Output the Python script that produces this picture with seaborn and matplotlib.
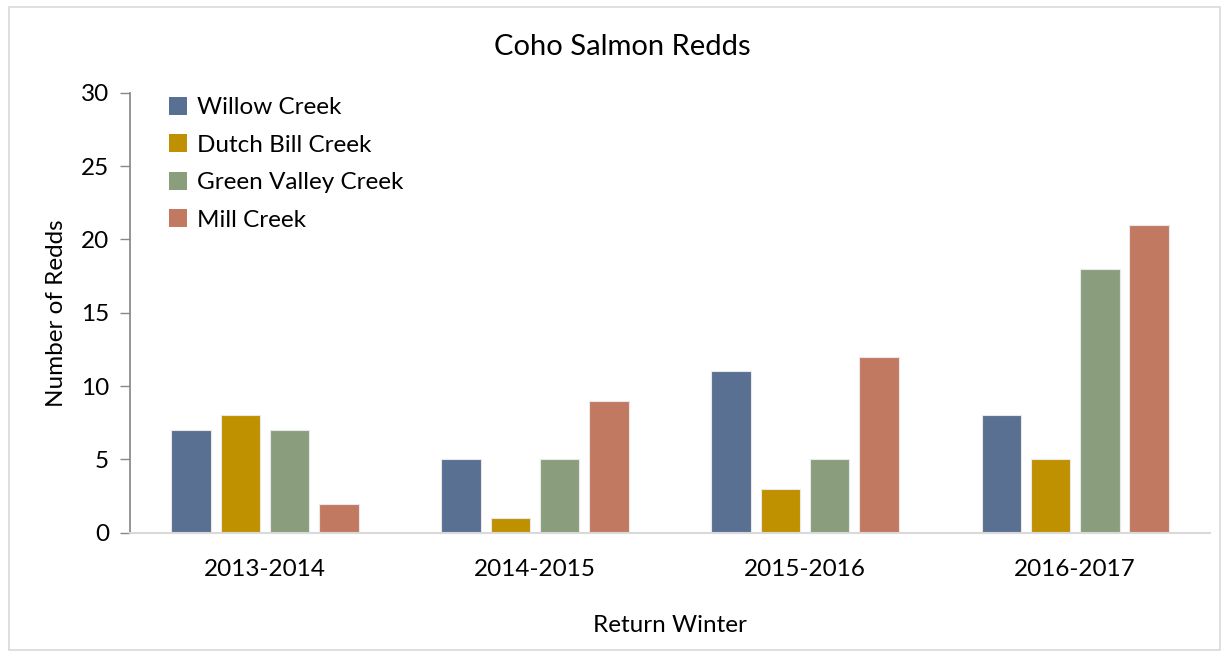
import matplotlib
matplotlib.use("Agg")
import matplotlib.pyplot as plt
from matplotlib.patches import Rectangle
import seaborn as sns
import pandas as pd

# Coho salmon redd counts per return winter and creek
winters = ["2013-2014", "2014-2015", "2015-2016", "2016-2017"]
creeks = ["Willow Creek", "Dutch Bill Creek", "Green Valley Creek", "Mill Creek"]
willow = [7, 5, 11, 8]
dutch_bill = [8, 1, 3, 5]
green_valley = [7, 5, 5, 18]
mill = [2, 9, 12, 21]
colors = ["#5A7093", "#BF9000", "#8A9E7E", "#C27961"]

df = pd.DataFrame({
    "Return Winter": winters * 4,
    "Creek": [c for c in creeks for _ in winters],
    "Redds": willow + dutch_bill + green_valley + mill,
})

sns.set_theme(style="white")
plt.rcParams["font.family"] = ["Lato", "DejaVu Sans"]
plt.rcParams["text.color"] = "black"
plt.rcParams["axes.labelcolor"] = "black"
plt.rcParams["xtick.color"] = "black"
plt.rcParams["ytick.color"] = "black"

fig = plt.figure(figsize=(12.25, 6.53), dpi=100)
ax = fig.add_axes([0.106, 0.184, 0.882, 0.674])

sns.barplot(data=df, x="Return Winter", y="Redds", hue="Creek",
            hue_order=creeks, palette=colors, width=0.73, gap=0.2,
            saturation=1, edgecolor="#E8E8E8", linewidth=0.8, ax=ax)

ax.set_ylim(0, 30)
ax.set_yticks(range(0, 31, 5))
ax.set_xlim(-0.5, 3.5)
ax.tick_params(axis="y", which="both", left=True, length=7, width=1,
               color="#888888", labelcolor="black", labelsize=17.5, pad=8)
ax.tick_params(axis="x", bottom=False, labelcolor="black", labelsize=17.5, pad=13)

for side in ("top", "right"):
    ax.spines[side].set_visible(False)
ax.spines["left"].set_color("#888888")
ax.spines["bottom"].set_color("#D9D9D9")
ax.spines["bottom"].set_linewidth(1.5)

ax.set_ylabel("Number of Redds", fontsize=17.5, labelpad=10)
ax.set_xlabel("Return Winter", fontsize=17.5, labelpad=25)
fig.suptitle("Coho Salmon Redds", fontsize=21, x=0.508, y=0.948)

leg = ax.legend(loc="upper left", bbox_to_anchor=(0.016, 1.04), frameon=False,
                fontsize=17.5, handlelength=0.75, handleheight=0.75,
                handletextpad=0.4, labelspacing=0.66)
for h in leg.legend_handles:
    h.set_edgecolor("none")

fig.patches.append(Rectangle((0.007, 0.005), 0.989, 0.985, transform=fig.transFigure,
                             fill=False, edgecolor="#D9D9D9", linewidth=1.2))

fig.savefig("out.png", dpi=100)
